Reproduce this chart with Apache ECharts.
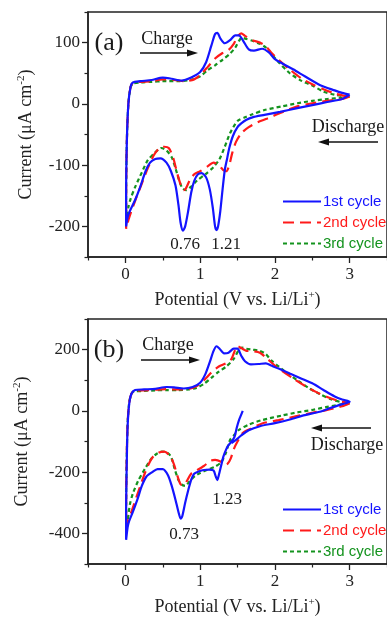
<!DOCTYPE html>
<html>
<head>
<meta charset="utf-8">
<script src="https://cdn.jsdelivr.net/npm/echarts@6/dist/echarts.min.js"></script>
<style>html,body{margin:0;padding:0;background:#fff;}#c{width:387px;height:617px;}</style>
</head>
<body>
<div id="c"></div>
<script>
// ---- data (Potential V, Current µA cm^-2) ----
const seriesNames = ['1st cycle', '2nd cycle', '3rd cycle'];
const xTicks = [0, 1, 2, 3];
const xMinorTicks = [-0.5, 0.5, 1.5, 2.5, 3.5];
const yTicksA = [-200, -100, 0, 100];
const yMinorA = [-250, -150, -50, 50, 150];
const yTicksB = [-400, -200, 0, 200];
const yMinorB = [-500, -300, -100, 100, 300];

const a1 = [[3.0,15],[2.9,8],[2.7,3],[2.5,-2],[2.3,-7],[2.07,-13],[1.86,-18],[1.7,-22],[1.62,-26],[1.55,-32],[1.5,-38],[1.44,-52],[1.39,-72],[1.36,-90],[1.33,-108],[1.30,-140],[1.27,-175],[1.24,-200],[1.22,-206],[1.20,-200],[1.17,-170],[1.13,-140],[1.08,-120],[1.02,-113],[0.97,-115],[0.92,-126],[0.88,-145],[0.84,-175],[0.80,-200],[0.77,-207],[0.74,-195],[0.71,-165],[0.67,-133],[0.61,-110],[0.55,-96],[0.47,-89],[0.40,-90],[0.33,-96],[0.27,-110],[0.20,-135],[0.13,-157],[0.06,-175],[0.03,-185],[0.01,-200],
  [0.01,-150],[0.02,-60],[0.04,0],[0.07,28],[0.1,35],[0.2,37],[0.35,39],[0.5,43],[0.62,41],[0.75,38],[0.88,43],[1.0,52],[1.08,68],[1.15,95],[1.2,114],[1.23,116],[1.27,107],[1.33,99],[1.4,104],[1.47,112],[1.52,112],[1.58,102],[1.65,89],[1.72,87],[1.83,90],[1.92,84],[2.0,73],[2.1,66],[2.25,56],[2.4,45],[2.6,31],[2.8,22],[2.9,18],[3.0,15]];
const a2 = [[3.0,12],[2.9,8],[2.7,5],[2.5,1],[2.3,-4],[2.07,-15],[1.9,-24],[1.77,-30],[1.65,-38],[1.55,-48],[1.48,-62],[1.43,-80],[1.39,-100],[1.35,-110],[1.31,-108],[1.25,-100],[1.18,-96],[1.1,-102],[1.0,-110],[0.92,-115],[0.86,-125],[0.81,-138],[0.78,-141],[0.74,-132],[0.69,-112],[0.64,-88],[0.58,-72],[0.52,-70],[0.45,-73],[0.38,-84],[0.3,-105],[0.22,-130],[0.15,-152],[0.08,-175],[0.04,-190],[0.01,-204],
  [0.01,-150],[0.02,-60],[0.04,0],[0.07,28],[0.1,34],[0.2,36],[0.35,37],[0.5,40],[0.65,39],[0.8,37],[0.92,40],[1.0,47],[1.1,60],[1.2,74],[1.3,83],[1.38,88],[1.45,98],[1.5,110],[1.55,115],[1.6,111],[1.7,104],[1.8,100],[1.88,94],[1.95,84],[2.05,72],[2.2,56],[2.35,42],[2.5,32],[2.65,24],[2.8,17],[2.9,14],[3.0,12]];
const a3 = [[3.0,12],[2.9,10],[2.7,8],[2.5,5],[2.3,1],[2.1,-4],[1.86,-10],[1.7,-17],[1.6,-22],[1.5,-28],[1.4,-48],[1.33,-70],[1.26,-90],[1.18,-103],[1.07,-115],[0.96,-125],[0.88,-135],[0.81,-141],[0.76,-137],[0.72,-125],[0.67,-105],[0.62,-87],[0.55,-76],[0.48,-72],[0.40,-79],[0.30,-92],[0.22,-112],[0.13,-136],[0.07,-155],[0.04,-169],[0.01,-195],
  [0.01,-150],[0.02,-60],[0.04,0],[0.07,27],[0.1,33],[0.2,35],[0.35,36],[0.5,37],[0.7,37],[0.9,40],[1.0,45],[1.1,55],[1.2,63],[1.3,72],[1.4,82],[1.47,92],[1.52,103],[1.56,108],[1.62,106],[1.7,103],[1.8,98],[1.88,92],[1.95,82],[2.05,68],[2.2,50],[2.35,38],[2.5,30],[2.65,20],[2.8,15],[2.9,13],[3.0,12]];

const b1 = [[1.57,0],[1.55,-12],[1.52,-30],[1.49,-55],[1.46,-85],[1.42,-100],[1.38,-112],[1.35,-125],[1.31,-150],[1.28,-180],[1.25,-210],[1.23,-226],[1.21,-215],[1.18,-195],[1.12,-192],[1.05,-193],[0.98,-198],[0.92,-205],[0.88,-225],[0.84,-260],[0.80,-300],[0.76,-345],[0.74,-352],[0.71,-330],[0.67,-290],[0.62,-245],[0.57,-210],[0.5,-190],[0.43,-190],[0.36,-200],[0.28,-215],[0.22,-245],[0.16,-290],[0.1,-330],[0.05,-360],[0.03,-380],[0.01,-421],
  [0.01,-330],[0.02,-150],[0.03,-50],[0.05,20],[0.08,55],[0.13,68],[0.25,70],[0.4,72],[0.55,78],[0.65,77],[0.78,73],[0.9,78],[1.0,92],[1.07,120],[1.13,160],[1.18,196],[1.22,211],[1.26,203],[1.32,188],[1.38,190],[1.45,203],[1.5,203],[1.55,180],[1.6,162],[1.68,152],[1.78,153],[1.88,155],[1.95,148],[2.05,138],[2.2,122],[2.35,106],[2.5,90],[2.65,68],[2.8,47],[2.9,37],[3.0,30],
  [2.9,22],[2.75,10],[2.6,-3],[2.4,-14],[2.2,-28],[2.0,-40],[1.8,-50],[1.65,-63],[1.55,-80],[1.48,-95],[1.42,-105]];
const b2 = [[3.0,25],[2.9,15],[2.7,3],[2.5,-6],[2.26,-19],[2.05,-30],[1.83,-41],[1.68,-58],[1.57,-72],[1.5,-100],[1.45,-125],[1.41,-155],[1.37,-172],[1.33,-176],[1.28,-166],[1.2,-160],[1.14,-163],[1.05,-180],[0.95,-195],[0.88,-205],[0.82,-230],[0.78,-243],[0.74,-240],[0.7,-215],[0.65,-175],[0.6,-148],[0.52,-133],[0.45,-136],[0.37,-150],[0.3,-180],[0.24,-217],[0.15,-280],[0.08,-330],[0.04,-355],[0.01,-385],
  [0.01,-300],[0.02,-130],[0.03,-40],[0.05,25],[0.08,55],[0.12,65],[0.25,67],[0.4,69],[0.55,71],[0.7,70],[0.85,72],[0.95,80],[1.05,100],[1.15,125],[1.25,145],[1.35,156],[1.42,170],[1.47,200],[1.5,211],[1.55,205],[1.62,196],[1.7,195],[1.8,190],[1.9,170],[2.0,148],[2.1,130],[2.25,105],[2.4,82],[2.55,62],[2.7,45],[2.85,33],[3.0,25]];
const b3 = [[3.0,25],[2.9,22],[2.7,13],[2.5,3],[2.3,-5],[2.1,-15],[1.83,-30],[1.65,-45],[1.52,-62],[1.45,-80],[1.4,-95],[1.34,-140],[1.28,-168],[1.2,-182],[1.1,-192],[1.0,-203],[0.93,-213],[0.86,-230],[0.8,-245],[0.75,-240],[0.71,-226],[0.66,-190],[0.61,-149],[0.55,-135],[0.49,-133],[0.42,-140],[0.35,-155],[0.26,-190],[0.17,-229],[0.1,-270],[0.06,-306],[0.03,-358],[0.01,-370],
  [0.01,-300],[0.02,-130],[0.03,-40],[0.05,25],[0.08,55],[0.12,64],[0.25,65],[0.4,67],[0.55,68],[0.7,68],[0.85,70],[0.95,75],[1.05,88],[1.15,108],[1.25,128],[1.35,145],[1.45,170],[1.52,200],[1.56,207],[1.62,203],[1.7,200],[1.8,196],[1.88,185],[1.95,165],[2.05,145],[2.15,125],[2.3,100],[2.45,75],[2.6,55],[2.75,38],[2.9,28],[3.0,25]];

// ---- styles ----
const SERIF = 'Liberation Serif';
const SANS = 'Liberation Sans';
const AX = '#222';
const colors = ['#1414ff', '#ff1a1a', '#14931e'];
const dashes = ['solid', [11, 6], [4, 3]];

function xAxesFor(g) {
  return [
    { gridIndex: g, type: 'value', min: -0.5, max: 3.5, position: 'bottom',
      name: 'Potential (V vs. Li/Li{s|+})', nameLocation: 'middle', nameGap: 33,
      nameTextStyle: { fontFamily: SERIF, fontSize: 18, color: AX, rich: { s: { fontFamily: SERIF, fontSize: 11, color: AX, padding: [0, 0, 9, 0] } } },
      axisLine: { onZero: false, lineStyle: { color: AX, width: 1.5 } },
      axisTick: { customValues: xTicks, length: 6, lineStyle: { color: AX, width: 1.3 } },
      axisLabel: { customValues: xTicks, margin: 9, fontFamily: SERIF, fontSize: 17, color: AX },
      splitLine: { show: false } },
    { gridIndex: g, type: 'value', min: -0.5, max: 3.5, position: 'bottom',
      axisLine: { show: false, onZero: false },
      axisTick: { customValues: xMinorTicks, length: 3.5, lineStyle: { color: AX, width: 1.2 } },
      axisLabel: { show: false }, splitLine: { show: false } }
  ];
}
function yAxesFor(g, mn, mx, ticks, minor, gap) {
  return [
    { gridIndex: g, type: 'value', min: mn, max: mx, position: 'left',
      name: 'Current (μA cm{s|-2})', nameLocation: 'middle', nameGap: gap, nameRotate: 90,
      nameTextStyle: { fontFamily: SERIF, fontSize: 18, color: AX, rich: { s: { fontFamily: SERIF, fontSize: 11, color: AX, padding: [0, 0, 9, 0] } } },
      axisLine: { onZero: false, lineStyle: { color: AX, width: 1.5 } },
      axisTick: { customValues: ticks, length: 6, lineStyle: { color: AX, width: 1.3 } },
      axisLabel: { customValues: ticks, margin: 8, fontFamily: SERIF, fontSize: 17, color: AX },
      splitLine: { show: false } },
    { gridIndex: g, type: 'value', min: mn, max: mx, position: 'left',
      axisLine: { show: false, onZero: false },
      axisTick: { customValues: minor, length: 3.5, lineStyle: { color: AX, width: 1.2 } },
      axisLabel: { show: false }, splitLine: { show: false } }
  ];
}
function mkSeries(data, i, xi, yi) {
  return { name: seriesNames[i], type: 'line', data: data, xAxisIndex: xi, yAxisIndex: yi,
    showSymbol: false, symbol: 'none', smooth: 0.25, z: 5 - i,
    lineStyle: { color: colors[i], width: 2.2, type: dashes[i] },
    itemStyle: { color: colors[i] } };
}
function legendFor(top) {
  return { orient: 'vertical', left: 277, top: top, itemWidth: 38, itemHeight: 14, itemGap: 6,
    selectedMode: false,
    itemStyle: { opacity: 0 },
    data: seriesNames.map((n, i) => ({ name: n, textStyle: { color: colors[i] } })),
    textStyle: { fontFamily: SANS, fontSize: 15, padding: [0, 0, 0, -3] } };
}
function arrow(x1, x2, y) {
  const dir = x2 > x1 ? 1 : -1;
  return { type: 'group', children: [
    { type: 'line', shape: { x1: x1, y1: y, x2: x2 - dir * 6, y2: y }, style: { stroke: '#111', lineWidth: 1.6 } },
    { type: 'polygon', shape: { points: [[x2, y], [x2 - dir * 11, y - 3.5], [x2 - dir * 11, y + 3.5]] }, style: { fill: '#111' } }
  ] };
}
function txt(x, y, s, size, align) {
  return { type: 'text', x: x, y: y, style: { text: s, font: size + 'px "' + SERIF + '"', fill: '#1a1a1a', align: align || 'center', verticalAlign: 'middle' } };
}

const chart = echarts.init(document.getElementById('c'), null, { renderer: 'canvas' });
chart.setOption({
  animation: false,
  backgroundColor: '#fff',
  grid: [
    { left: 88, top: 12, width: 304, height: 245, show: true, borderColor: AX, borderWidth: 1.5, containLabel: false },
    { left: 88, top: 319, width: 309, height: 249, show: true, borderColor: AX, borderWidth: 1.5, containLabel: false }
  ],
  xAxis: xAxesFor(0).concat(xAxesFor(1)),
  yAxis: yAxesFor(0, -250, 150, yTicksA, yMinorA, 52).concat(yAxesFor(1, -500, 300, yTicksB, yMinorB, 56)),
  legend: [legendFor(189), legendFor(497)],
  series: [
    mkSeries(a1, 0, 0, 0), mkSeries(a2, 1, 0, 0), mkSeries(a3, 2, 0, 0),
    mkSeries(b1, 0, 2, 2), mkSeries(b2, 1, 2, 2), mkSeries(b3, 2, 2, 2)
  ],
  graphic: [
    txt(109, 43, '(a)', 26), txt(167, 39, 'Charge', 18), arrow(140, 198, 53),
    txt(348, 127, 'Discharge', 18), arrow(378, 318, 142),
    txt(185, 245, '0.76', 17), txt(226, 245, '1.21', 17),
    txt(109, 350, '(b)', 26), txt(168, 345, 'Charge', 18), arrow(141, 200, 360),
    txt(347, 445, 'Discharge', 18), arrow(371, 311, 428),
    txt(227, 500, '1.23', 17), txt(184, 535, '0.73', 17)
  ]
});
</script>
</body>
</html>
